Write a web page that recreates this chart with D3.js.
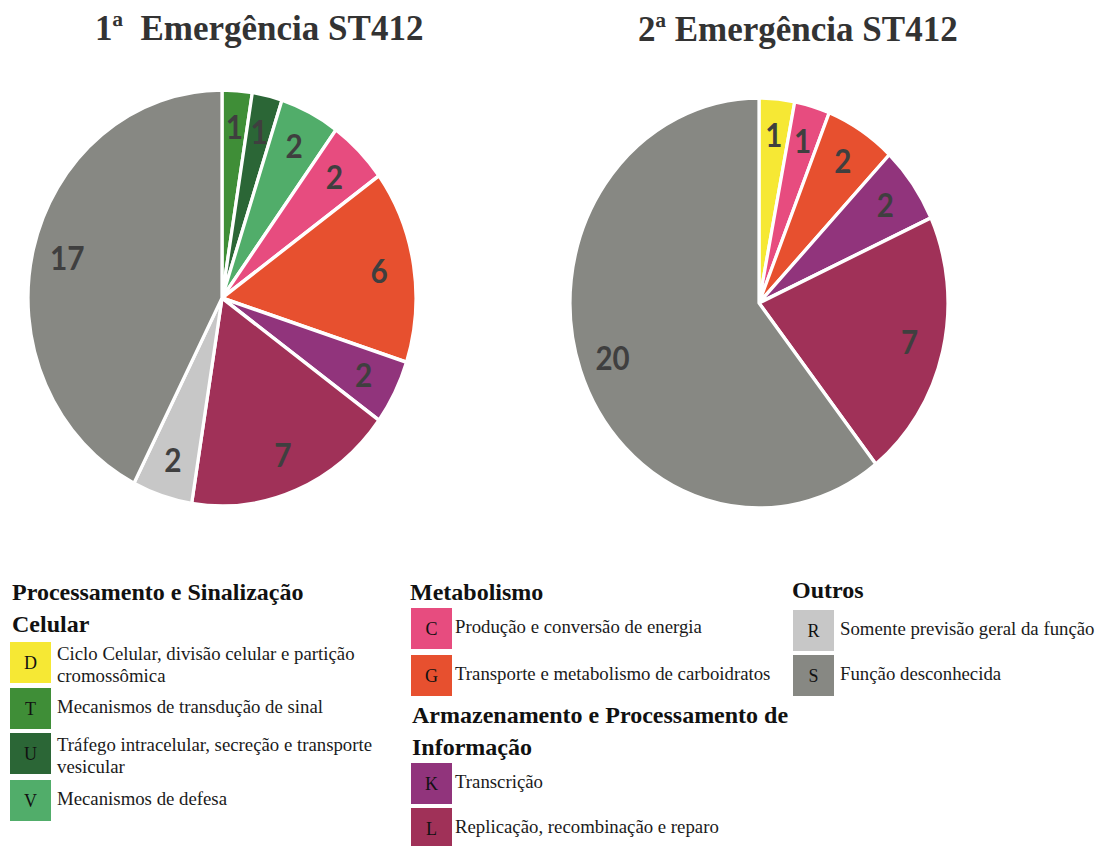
<!DOCTYPE html>
<html>
<head>
<meta charset="utf-8">
<script src="https://cdn.jsdelivr.net/npm/d3@7"></script>
<style>
  html, body { margin: 0; padding: 0; background: #fff; }
  svg { display: block; }
  text { white-space: pre; }
</style>
</head>
<body>
<div id="chart"></div>
<script>
const WIDTH = 1102
const HEIGHT = 846

// COG categories, colours and descriptions
const codes = ["D", "T", "U", "V", "C", "G", "K", "L", "R", "S"];
const colors = ["#f6e834", "#3f8e37", "#2b6636", "#51ad6a", "#e74c7f", "#e7502f", "#91347c", "#a03158", "#c7c7c7", "#878883"];
const descriptions = [
    "Ciclo Celular, divisão celular e partição|cromossômica",
    "Mecanismos de transdução de sinal",
    "Tráfego intracelular, secreção e transporte|vesicular",
    "Mecanismos de defesa",
    "Produção e conversão de energia",
    "Transporte e metabolismo de carboidratos",
    "Transcrição",
    "Replicação, recombinação e reparo",
    "Somente previsão geral da função",
    "Função desconhecida"
];

// pie 1 (1a emergencia)
const cats1 = ["T", "U", "V", "C", "G", "K", "L", "R", "S"];
const vals1 = [1, 1, 2, 2, 6, 2, 7, 2, 17];
// pie 2 (2a emergencia)
const cats2 = ["D", "C", "G", "K", "L", "S"];
const vals2 = [1, 1, 2, 2, 7, 20];

const titles = ["1ª  Emergência ST412", "2ª Emergência ST412"];

// legend groups
const groupNames = ["Processamento e Sinalização|Celular", "Metabolismo", "Armazenamento e Processamento de|Informação", "Outros"];
const groupCodes = [["D", "T", "U", "V"], ["C", "G"], ["K", "L"], ["R", "S"]];

const color = d3.scaleOrdinal().domain(codes).range(colors);

var svg = d3.select("#chart").append("svg")
    .attr("width", WIDTH)
    .attr("height", HEIGHT);

const serif = "'Liberation Serif', 'Times New Roman', serif";

const pies = [
    {cats: cats1, vals: vals1, cx: 222, cy: 298, rx: 194, ry: 208, title: titles[0], tx: 95, ty: 40},
    {cats: cats2, vals: vals2, cx: 759, cy: 303, rx: 189, ry: 205, title: titles[1], tx: 638, ty: 41}
];

pies.forEach(p => {
    svg.append("text")
        .attr("x", p.tx)
        .attr("y", p.ty)
        .attr("font-family", serif)
        .attr("font-weight", "bold")
        .attr("font-size", "35px")
        .attr("fill", "#333")
        .text(p.title);

    var data = p.cats.map((c, i) => ({cat: c, value: p.vals[i]}));
    var arcs = d3.pie().sort(null).value(d => d.value)(data);
    var arc = d3.arc().innerRadius(0).outerRadius(p.ry);
    var labelArc = d3.arc().innerRadius(p.ry * 0.82).outerRadius(p.ry * 0.82);

    // chart is slightly squeezed horizontally
    var g = svg.append("g")
        .attr("transform", `translate(${p.cx},${p.cy}) scale(${p.rx / p.ry},1)`);

    g.selectAll("path")
        .data(arcs)
        .enter()
        .append("path")
        .attr("d", arc)
        .attr("fill", d => color(d.data.cat))
        .attr("stroke", "#fff")
        .attr("stroke-width", 3.5)
        .attr("stroke-linejoin", "round");

    g.selectAll("text")
        .data(arcs)
        .enter()
        .append("text")
        .attr("transform", d => `translate(${labelArc.centroid(d)})`)
        .attr("text-anchor", "middle")
        .attr("dy", "0.36em")
        .attr("font-family", "Lato, 'Open Sans', sans-serif")
        .attr("font-weight", "bold")
        .attr("font-size", "32px")
        .attr("fill", "#3f3f3f")
        .text(d => d.data.value);
});

// legend layout: one entry per group
const legendLayout = [
    {x: 12, headY: [600, 632], boxX: 10, textX: 57, tops: [642, 688, 733, 780]},
    {x: 410, headY: [600], boxX: 411, textX: 455, tops: [608, 655]},
    {x: 412, headY: [723, 755], boxX: 411, textX: 455, tops: [763, 808]},
    {x: 792, headY: [598], boxX: 793, textX: 840, tops: [610, 655]}
];
const BOX = 41;

groupNames.forEach((name, gi) => {
    var L = legendLayout[gi];
    name.split("|").forEach((line, li) => {
        svg.append("text")
            .attr("x", L.x)
            .attr("y", L.headY[li])
            .attr("font-family", serif)
            .attr("font-weight", "bold")
            .attr("font-size", "24px")
            .attr("fill", "#111")
            .text(line);
    });

    groupCodes[gi].forEach((code, ii) => {
        var top = L.tops[ii];
        var item = svg.append("g");
        item.append("rect")
            .attr("x", L.boxX)
            .attr("y", top)
            .attr("width", BOX)
            .attr("height", BOX)
            .attr("fill", color(code));
        item.append("text")
            .attr("x", L.boxX + BOX / 2)
            .attr("y", top + 27)
            .attr("text-anchor", "middle")
            .attr("font-family", serif)
            .attr("font-size", "18px")
            .attr("fill", "#111")
            .text(code);
        var lines = descriptions[codes.indexOf(code)].split("|");
        lines.forEach((line, li) => {
            item.append("text")
                .attr("x", L.textX)
                .attr("y", lines.length > 1 ? top + 18 + li * 22 : top + 25)
                .attr("font-family", serif)
                .attr("font-size", "18.8px")
                .attr("fill", "#1a1a1a")
                .text(line);
        });
    });
});
</script>
</body>
</html>
